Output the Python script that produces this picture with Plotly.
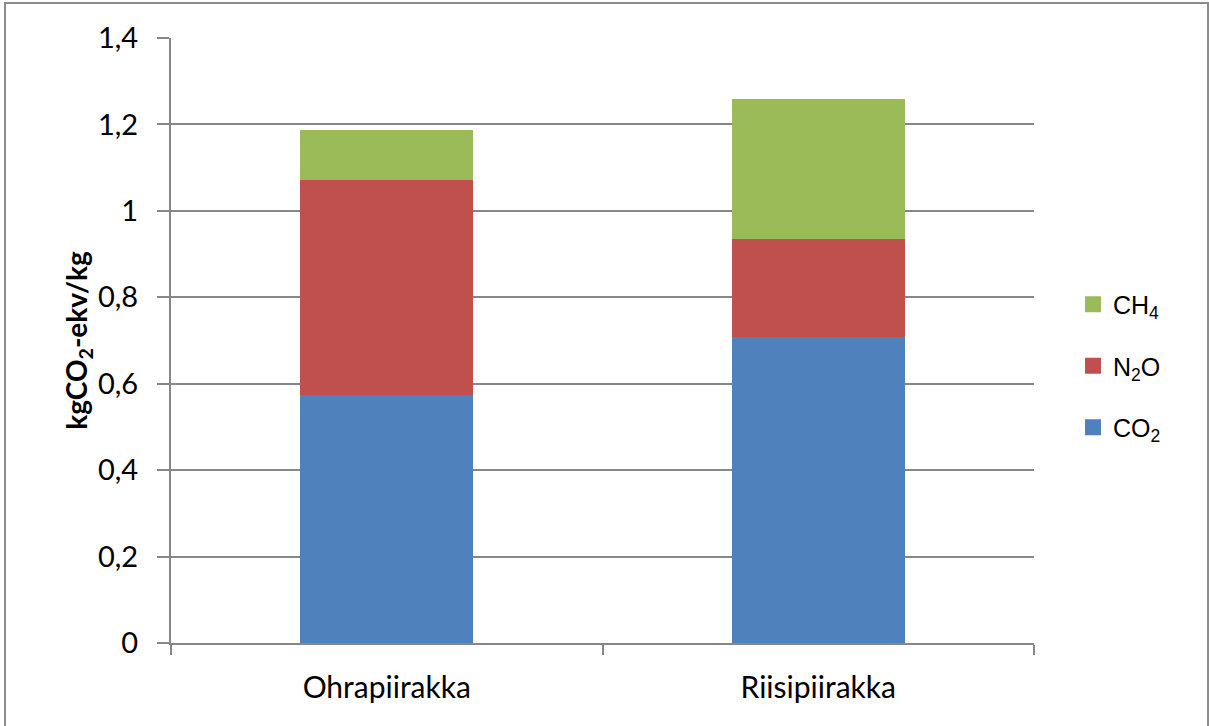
import plotly.graph_objects as go

categories = ["Ohrapiirakka", "Riisipiirakka"]
co2 = [0.575, 0.709]
n2o = [0.496, 0.227]
ch4 = [0.117, 0.322]

series_names = ["CO<sub>2</sub>", "N<sub>2</sub>O", "CH<sub>4</sub>"]
series_values = [co2, n2o, ch4]
colors = ["#4F81BD", "#C0504D", "#9BBB59"]

fig = go.Figure()
for i, (name, vals, col) in enumerate(zip(series_names, series_values, colors)):
    fig.add_trace(go.Bar(
        x=categories, y=vals, name=name, marker_color=col,
        marker_line_width=0, showlegend=False, legendgroup=f"g{i}",
    ))
# legend entries (top to bottom: CH4, N2O, CO2)
for i in reversed(range(len(series_names))):
    fig.add_trace(go.Scatter(
        x=[None], y=[None], mode="markers", name=series_names[i], legendgroup=f"g{i}",
        marker=dict(symbol="square", size=21, color=colors[i]),
    ))

grid_col = "#878787"
W, H = 1209, 726
L, R, T, B = 171, 175, 38, 83
pw = W - L - R
ph = H - T - B

fig.update_layout(
    width=W, height=H,
    barmode="stack", bargap=0.6,
    separators=",.",
    plot_bgcolor="white", paper_bgcolor="white",
    margin=dict(l=L, r=R, t=T, b=B, pad=0),
    font=dict(family="Lato, Open Sans, sans-serif", size=30, color="black"),
    showlegend=True,
    legend=dict(
        x=(1073 - L) / pw, y=(643 - 366) / ph, xanchor="left", yanchor="middle",
        traceorder="grouped", tracegroupgap=26, itemsizing="trace",
        font=dict(family="Liberation Sans, Arial, sans-serif", size=25),
        itemwidth=30, bgcolor="rgba(0,0,0,0)",
    ),
    xaxis=dict(
        showline=True, linecolor=grid_col, linewidth=2,
        ticks="outside", tickson="boundaries", ticklen=10, tickwidth=2, tickcolor=grid_col,
        showgrid=False, tickfont=dict(size=30), ticklabelstandoff=17,
    ),
    yaxis=dict(
        range=[0, 1.4], dtick=0.2, tick0=0,
        showline=True, linecolor=grid_col, linewidth=2,
        ticks="outside", ticklen=12, tickwidth=2, tickcolor=grid_col,
        showgrid=True, gridcolor=grid_col, gridwidth=2,
        zeroline=False, tickfont=dict(size=29), ticklabelstandoff=13,
        title=dict(text="<b>kgCO<sub>2</sub>-ekv/kg</b>", font=dict(size=28), standoff=2),
    ),
    shapes=[dict(
        type="rect", xref="paper", yref="paper",
        x0=(5 - L) / pw, x1=(1208 - L) / pw, y0=-0.3, y1=(643 - 3) / ph,
        line=dict(color="#8C8C8C", width=2), fillcolor="rgba(0,0,0,0)", layer="below",
    )],
)

fig.write_html(
    "out.html",
    config={"displayModeBar": False},
    post_script="document.body.style.margin='0';document.body.style.overflow='hidden';",
)
